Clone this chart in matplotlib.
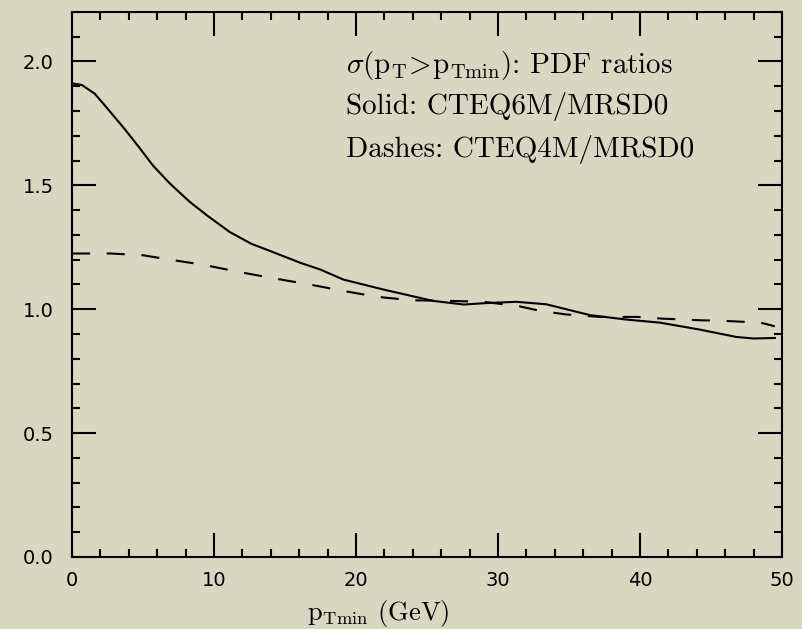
import matplotlib
matplotlib.use("Agg")
import matplotlib.pyplot as plt
from matplotlib.ticker import MultipleLocator

# values
pt_solid = [0, 0.7, 1.6, 2.2, 3.6, 4.8, 5.7, 6.9, 8.3, 9.5, 11.1, 12.6, 14.4,
            16.1, 17.5, 19.1, 21.9, 25.4, 27.6, 29.2, 31.3, 33.4, 36.5, 39.1,
            41.4, 44.2, 46.8, 48.0, 49.5]
ratio_cteq6 = [1.912, 1.905, 1.87, 1.83, 1.735, 1.648, 1.58, 1.507, 1.433, 1.379,
               1.312, 1.265, 1.225, 1.187, 1.16, 1.12, 1.08, 1.034, 1.019, 1.025,
               1.03, 1.02, 0.976, 0.958, 0.946, 0.918, 0.888, 0.882, 0.884]

pt_dash = [0, 2.7, 5.0, 6.9, 9.2, 11.8, 14.2, 17.0, 19.1, 21.5, 24.0, 26.4,
           29.0, 31.5, 33.0, 34.8, 37.2, 39.8, 41.6, 44.0, 46.3, 48.5, 49.5]
ratio_cteq4 = [1.225, 1.225, 1.218, 1.20, 1.18, 1.15, 1.125, 1.097, 1.074, 1.05,
               1.036, 1.034, 1.03, 1.012, 0.993, 0.979, 0.969, 0.969, 0.962,
               0.956, 0.952, 0.946, 0.931]

bg = "#d8d7c1"
plt.rcParams["mathtext.fontset"] = "cm"
plt.rcParams["lines.scale_dashes"] = False

fig = plt.figure(figsize=(8.03, 6.29), dpi=100, facecolor=bg)
ax = fig.add_axes([0.0897, 0.1145, 0.8841, 0.8665], facecolor=bg)

ax.plot(pt_solid, ratio_cteq6, color="black", lw=1.5)
ax.plot(pt_dash, ratio_cteq4, color="black", lw=1.5, dashes=(13, 12))

ax.set_xlim(0, 50)
ax.set_ylim(0, 2.2)
ax.xaxis.set_major_locator(MultipleLocator(10))
ax.xaxis.set_minor_locator(MultipleLocator(2))
ax.yaxis.set_major_locator(MultipleLocator(0.5))
ax.yaxis.set_minor_locator(MultipleLocator(0.1))
ax.yaxis.set_major_formatter(lambda v, p: "%.1f" % v)

ax.tick_params(which="both", direction="in", top=True, right=True,
               width=1.5, labelsize=14)
ax.tick_params(which="major", length=17)
ax.tick_params(which="minor", length=6)
ax.tick_params(axis="y", pad=13)
ax.tick_params(axis="x", pad=10)
for s in ax.spines.values():
    s.set_linewidth(1.5)

cm = dict(family="cmr10", fontsize=21, transform=ax.transAxes, va="baseline")
ax.text(0.386, 0.888, r"$\sigma(\mathrm{p_T\!>\!p_{Tmin}})$: PDF ratios", **cm)
ax.text(0.386, 0.813, "Solid: CTEQ6M/MRSD0", **cm)
ax.text(0.386, 0.734, "Dashes: CTEQ4M/MRSD0", **cm)

ax.text(0.431, -0.1156, r"$\mathrm{p_{Tmin}}$ (GeV)", family="cmr10",
        fontsize=19, transform=ax.transAxes, ha="center", va="baseline")

fig.savefig("out.png", dpi=100, facecolor=bg)
